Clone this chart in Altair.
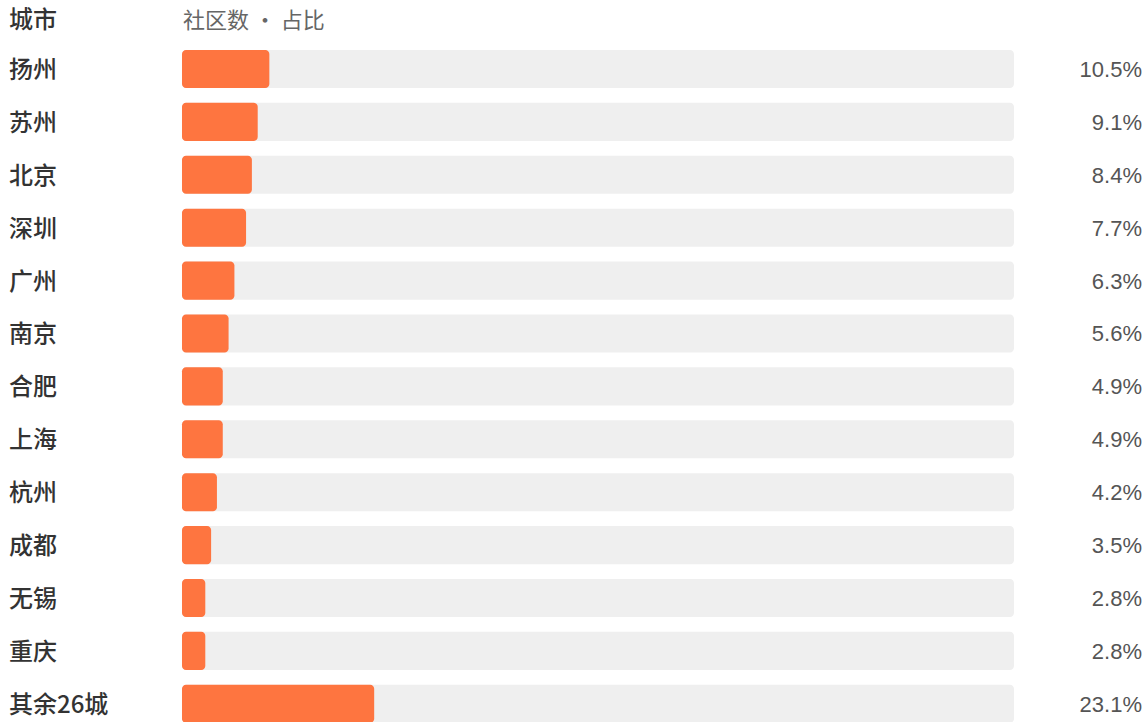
import altair as alt
import pandas as pd

cities = ["扬州", "苏州", "北京", "深圳", "广州", "南京", "合肥", "上海", "杭州", "成都", "无锡", "重庆", "其余26城"]
shares = [10.5, 9.1, 8.4, 7.7, 6.3, 5.6, 4.9, 4.9, 4.2, 3.5, 2.8, 2.8, 23.1]
header_city = "城市"
header_value = "社区数 · 占比"

df = pd.DataFrame({
    "city": cities,
    "share": shares,
    "row": list(range(len(cities))),
})
df["y0"] = df["row"] - 0.36
df["y1"] = df["row"] + 0.36
df["full"] = 100.0
df["zero"] = 0.0
df["label"] = [f"{v:.1f}%" for v in shares]

hdr = pd.DataFrame({"row": [-0.95], "c": [header_city], "v": [header_value]})

xs = alt.Scale(domain=[-21.875, 115.87], nice=False, zero=False)
ys = alt.Scale(domain=[-1.304, 12.344], nice=False, zero=False, reverse=True)
X = lambda f: alt.X(f, type="quantitative", scale=xs, axis=None)
Y = lambda f: alt.Y(f, type="quantitative", scale=ys, axis=None)

base = alt.Chart(df)

bg = base.mark_bar(color="#efefef", cornerRadius=4).encode(
    x=X("zero"), x2="full", y=Y("y0"), y2="y1"
)
fg = base.mark_bar(color="#fe7540", cornerRadius=4).encode(
    x=X("zero"), x2="share", y=Y("y0"), y2="y1"
)
names = base.mark_text(align="left", baseline="middle", font="Noto Sans CJK SC",
                       fontWeight=500, fontSize=24, color="#333333", dy=2).encode(
    x=alt.value(9), y=Y("row"), text="city"
)
pct = base.mark_text(align="right", baseline="middle", font="Liberation Sans",
                     fontSize=22, color="#555555", dy=1).encode(
    x=alt.value(1142), y=Y("row"), text="label"
)
h1 = alt.Chart(hdr).mark_text(align="left", baseline="middle", font="Noto Sans CJK SC",
                              fontWeight=500, fontSize=24, color="#333333", dy=2).encode(
    x=alt.value(9), y=Y("row"), text="c"
)
h2 = alt.Chart(hdr).mark_text(align="left", baseline="middle", font="Noto Sans CJK SC",
                              fontSize=22, color="#666666", dy=2).encode(
    x=alt.value(183), y=Y("row"), text="v"
)

chart = alt.layer(bg, fg, names, pct, h1, h2).properties(
    width=1146, height=722, padding=0, autosize=alt.AutoSizeParams(type="none")
).configure_view(stroke=None)

chart.save("out.html", embed_options={"renderer": "svg", "actions": False})
